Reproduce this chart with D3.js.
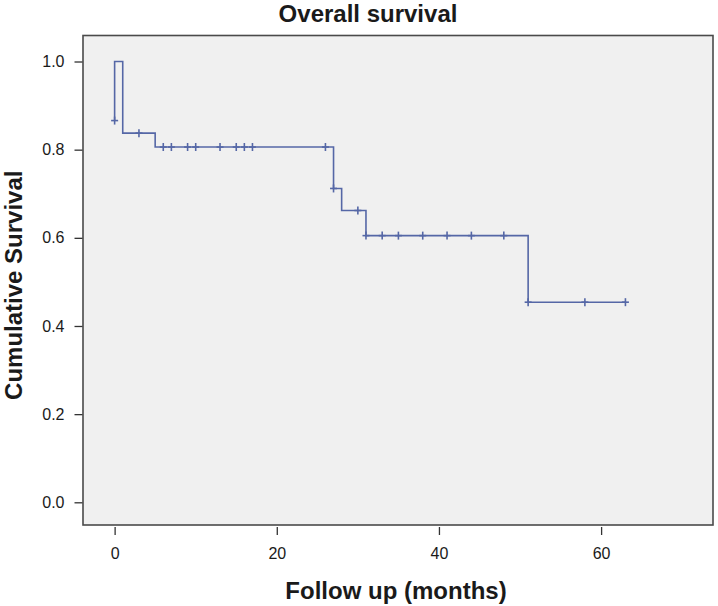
<!DOCTYPE html>
<html>
<head>
<meta charset="utf-8">
<script src="https://cdn.jsdelivr.net/npm/d3@7"></script>
<style>
  html, body { margin: 0; padding: 0; background: #ffffff; }
  svg { display: block; }
  text { font-family: "Liberation Sans", Arial, sans-serif; fill: #1a1a1a; }
</style>
</head>
<body>
<svg id="chart" width="718" height="606"></svg>
<script>
// ---- data ----
const title = "Overall survival";
const xTitle = "Follow up (months)";
const yTitle = "Cumulative Survival";
const xTicks = [0, 20, 40, 60];
const yTicks = [0.0, 0.2, 0.4, 0.6, 0.8, 1.0];

// step function: times at which the curve level changes, and the level from that time on
const stepTimes    = [0,     0,    1,      5,     27,    28,    31,    51];
const stepSurvival = [0.866, 1.0,  0.8375, 0.806, 0.712, 0.662, 0.605, 0.454];
const lastTime = 63;

// censored observations (time, survival level at that time)
const censorTimes    = [0,     3,      6,     7,     9,     10,    13,    15,    16,    17,    26,    27,    30,    31,    33,    35,    38,    41,    44,    48,    51,    58,    63];
const censorSurvival = [0.866, 0.8375, 0.806, 0.806, 0.806, 0.806, 0.806, 0.806, 0.806, 0.806, 0.806, 0.712, 0.662, 0.605, 0.605, 0.605, 0.605, 0.605, 0.605, 0.605, 0.454, 0.454, 0.454];

// ---- layout ----
const svg = d3.select("#chart");
const plot = { left: 83, top: 35.5, right: 713, bottom: 525 };
const xDomain = [-3.9, 73.8];
const yDomain = [-0.0515, 1.059];

const x = d3.scaleLinear().domain(xDomain).range([plot.left, plot.right]);
const y = d3.scaleLinear().domain(yDomain).range([plot.bottom, plot.top]);

const lineColor = "#5567a6";

// background + frame
svg.append("rect")
  .attr("x", plot.left).attr("y", plot.top)
  .attr("width", plot.right - plot.left).attr("height", plot.bottom - plot.top)
  .attr("fill", "#f0f0f0")
  .attr("stroke", "#4a4a4a").attr("stroke-width", 1.6);

// y axis
const yAxis = d3.axisLeft(y).tickValues(yTicks).tickFormat(d3.format(".1f"))
  .tickSizeInner(8).tickSizeOuter(0).tickPadding(10);
const gy = svg.append("g").attr("transform", `translate(${plot.left - 0.5},0)`).call(yAxis);
gy.select(".domain").remove();
gy.selectAll(".tick line").attr("stroke", "#333").attr("stroke-width", 1.3);
gy.selectAll(".tick text").attr("font-size", 16).attr("fill", "#1a1a1a")
  .style("font-family", "'Liberation Sans', Arial, sans-serif");

// x axis
const xAxis = d3.axisBottom(x).tickValues(xTicks).tickFormat(d3.format("d"))
  .tickSizeInner(8).tickSizeOuter(0).tickPadding(13);
const gx = svg.append("g").attr("transform", `translate(0,${plot.bottom + 2})`).call(xAxis);
gx.select(".domain").remove();
gx.selectAll(".tick line").attr("stroke", "#333").attr("stroke-width", 1.3);
gx.selectAll(".tick text").attr("font-size", 16).attr("fill", "#1a1a1a")
  .style("font-family", "'Liberation Sans', Arial, sans-serif");

// survival step curve
const pts = stepTimes.map((t, i) => [t, stepSurvival[i]]);
pts.push([lastTime, stepSurvival[stepSurvival.length - 1]]);
const line = d3.line().x(d => x(d[0])).y(d => y(d[1])).curve(d3.curveStepAfter);
svg.append("path").datum(pts)
  .attr("d", line)
  .attr("fill", "none")
  .attr("stroke", lineColor)
  .attr("stroke-width", 1.6);

// censor marks (+)
const cens = censorTimes.map((t, i) => [t, censorSurvival[i]]);
const cg = svg.append("g").attr("stroke", lineColor).attr("stroke-width", 1.6);
cens.forEach(d => {
  const cx = x(d[0]), cy = y(d[1]);
  cg.append("line").attr("x1", cx).attr("x2", cx).attr("y1", cy - 4).attr("y2", cy + 4);
  cg.append("line").attr("x1", cx - 3.5).attr("x2", cx + 3.5).attr("y1", cy).attr("y2", cy);
});

// titles
svg.append("text")
  .attr("x", (plot.left + plot.right) / 2 - 30).attr("y", 22)
  .attr("text-anchor", "middle")
  .attr("font-size", 24).attr("font-weight", "bold")
  .text(title);

svg.append("text")
  .attr("x", 396).attr("y", 599)
  .attr("text-anchor", "middle")
  .attr("font-size", 24).attr("font-weight", "bold")
  .text(xTitle);

svg.append("text")
  .attr("transform", `translate(22,${(plot.top + plot.bottom) / 2 + 5}) rotate(-90)`)
  .attr("text-anchor", "middle")
  .attr("font-size", 24).attr("font-weight", "bold")
  .text(yTitle);
</script>
</body>
</html>
